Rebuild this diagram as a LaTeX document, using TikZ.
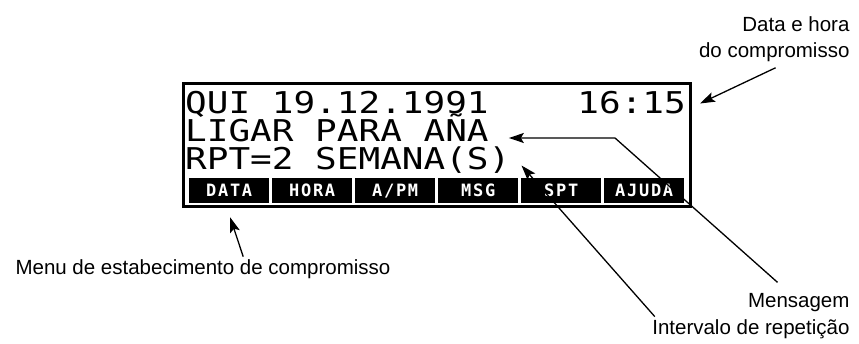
\documentclass[tikz,border=0pt]{standalone}
\usepackage{fontspec}
\usepackage{tikz}
\usetikzlibrary{calc,arrows.meta}
\setmainfont{Liberation Sans}
\newfontfamily\lcdfont[FakeStretch=1.2]{DejaVu Sans Mono}
\newfontfamily\keyfont[LetterSpace=10]{DejaVu Sans Mono}
\newcommand\lcdtext{\lcdfont\fontsize{30}{34}\selectfont}
\newcommand\keytext{\keyfont\bfseries\fontsize{17}{20}\selectfont}
\newcommand\labeltext{\fontsize{20.5}{24}\selectfont}

\begin{document}
\begin{tikzpicture}[x=1pt,y=-1pt,>={Stealth[length=15pt,width=10pt,inset=3pt]},
    lcd/.style={font=\lcdtext,inner xsep=6pt,inner ysep=0pt,text height=22pt,text depth=1pt},
    callout/.style={font=\labeltext},
    ptr/.style={->,line width=1.3pt}]
    \useasboundingbox (0,0) rectangle (859,344);
    % display
    \draw[line width=3pt] (183,84) rectangle (690,207);
    \node[lcd,anchor=base west] (line1) at (179,114) {QUI 19.12.1991};
    \node[lcd,anchor=base east] (time) at (692,114) {16:15};
    \node[lcd,anchor=base west] (line2) at (179,142) {LIGAR PARA AÑA};
    \node[lcd,anchor=base west] (line3) at (179,170) {RPT=2 SEMANA(S)};
    % menu keys
    \foreach \k [count=\i from 0] in {DATA,HORA,A/PM,MSG,SPT,AJUDA}
      \node[fill=black,text=white,font=\keytext,minimum width=80pt,minimum height=25pt,inner sep=0pt,anchor=north west]
        (key\i) at (189+83*\i,178) {\k};
    % labels
    \node[callout,anchor=base east] (dh1) at (853,32) {Data e hora};
    \node[callout,anchor=base east] (dh2) at (853,58) {do compromisso};
    \node[callout,anchor=base east] (msgl) at (853,308) {Mensagem};
    \node[callout,anchor=base east] (intl) at (853,335) {Intervalo de repetição};
    \node[callout,anchor=base west] (menul) at (12,275) {Menu de estabecimento de compromisso};
    \coordinate (bend) at (615,138);
    \draw[ptr] ($(dh2.south west)+(80pt,-2pt)$) -- ($(time.east)+(8pt,0)$);
    \draw[ptr] ($(msgl.north west)+(33pt,8pt)$) -- (bend) -- ($(bend -| line2.east)+(14pt,0)$);
    \draw[ptr] ($(intl.north west)+(6pt,0)$) -- ($(line3.east)+(5pt,-6pt)$);
    \draw[ptr] ($(key0.south |- menul.north)+(14pt,0)$) -- ($(key0.south)+(1pt,-14pt)$);
\end{tikzpicture}
\end{document}
